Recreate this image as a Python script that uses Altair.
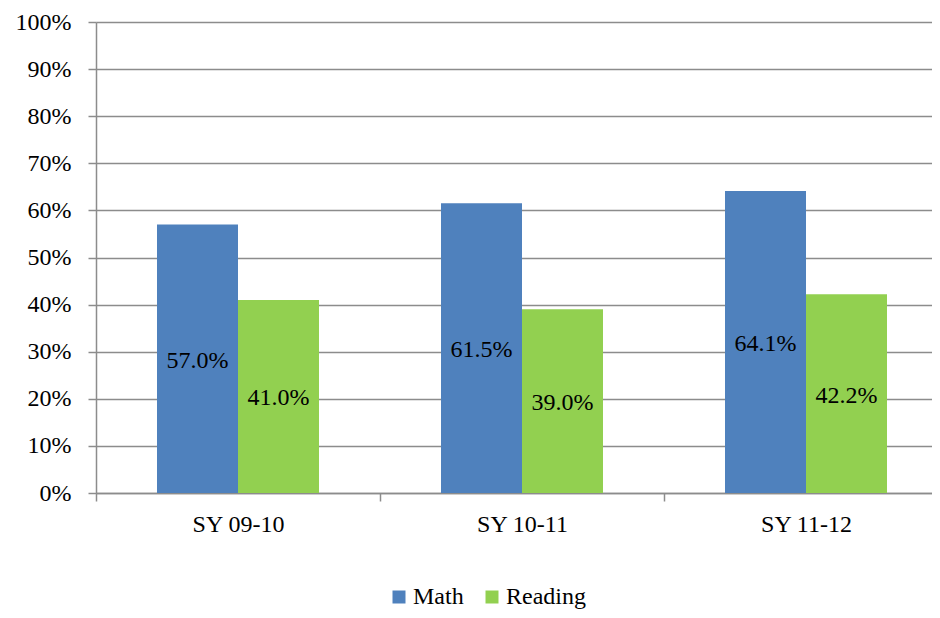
import altair as alt
import pandas as pd

years = ["SY 09-10", "SY 10-11", "SY 11-12"]
series = ["Math", "Reading"]
math = [57.0, 61.5, 64.1]
reading = [41.0, 39.0, 42.2]
colors = ["#4F81BD", "#92D050"]
y_ticks = [0, 0.1, 0.2, 0.3, 0.4, 0.5, 0.6, 0.7, 0.8, 0.9, 1.0]

rows = []
for i, yr in enumerate(years):
    rows.append({"year": yr, "series": "Math", "value": math[i] / 100})
    rows.append({"year": yr, "series": "Reading", "value": reading[i] / 100})
df = pd.DataFrame(rows)

FONT = "Times New Roman, Liberation Serif, DejaVu Serif, serif"
FS = 24
GRID = "#8c8c8c"

x_enc = alt.X(
    "year:N", sort=years, title=None,
    scale=alt.Scale(range=[0, 852], paddingInner=0, paddingOuter=0),
    axis=alt.Axis(labelAngle=0, tickBand="extent", grid=False, labelFont=FONT,
                  labelFontSize=FS, labelColor="black", labelPadding=11,
                  tickSize=8, tickColor=GRID, tickWidth=1.5,
                  domainColor=GRID, domainWidth=1.5),
)
xoff = alt.XOffset("series:N", sort=series,
                   scale=alt.Scale(paddingInner=0, paddingOuter=0.753))

bars = alt.Chart(df).mark_bar(size=81).encode(
    x=x_enc,
    xOffset=xoff,
    y=alt.Y("value:Q", title=None,
            scale=alt.Scale(domain=[0, 1], nice=False, zero=True),
            axis=alt.Axis(values=y_ticks, format=".0%", labelFont=FONT,
                          labelFontSize=FS, labelColor="black", labelPadding=17,
                          tickSize=8, tickColor=GRID, tickWidth=1.5,
                          gridColor=GRID, gridWidth=1.5, gridOpacity=1,
                          domainColor=GRID, domainWidth=1.5)),
    color=alt.Color("series:N", sort=series,
                    scale=alt.Scale(domain=series, range=colors),
                    legend=alt.Legend(orient="none", legendX=291, legendY=563,
                                      direction="horizontal", title=None,
                                      symbolType="square", symbolSize=169,
                                      symbolStrokeWidth=0, symbolOpacity=1,
                                      labelFont=FONT, labelFontSize=FS,
                                      labelColor="black", labelOffset=2,
                                      columnPadding=16, padding=0)),
)

labels = alt.Chart(df).transform_calculate(mid="datum.value / 2").mark_text(
    font=FONT, fontSize=FS, color="black", baseline="middle", align="center", dy=2
).encode(
    x=alt.X("year:N", sort=years),
    xOffset=xoff,
    y=alt.Y("mid:Q"),
    text=alt.Text("value:Q", format=".1%"),
)

chart = alt.layer(bars, labels).properties(
    width=836, height=471,
    autosize=alt.AutoSizeParams(type="none"),
    padding={"left": 88, "top": 14, "right": 0, "bottom": 117},
    background="white",
).configure(font=FONT).configure_view(stroke=None).configure_text(font=FONT).configure_legend(labelFont=FONT)

chart.save("out.html", embed_options={"renderer": "svg", "actions": False})
